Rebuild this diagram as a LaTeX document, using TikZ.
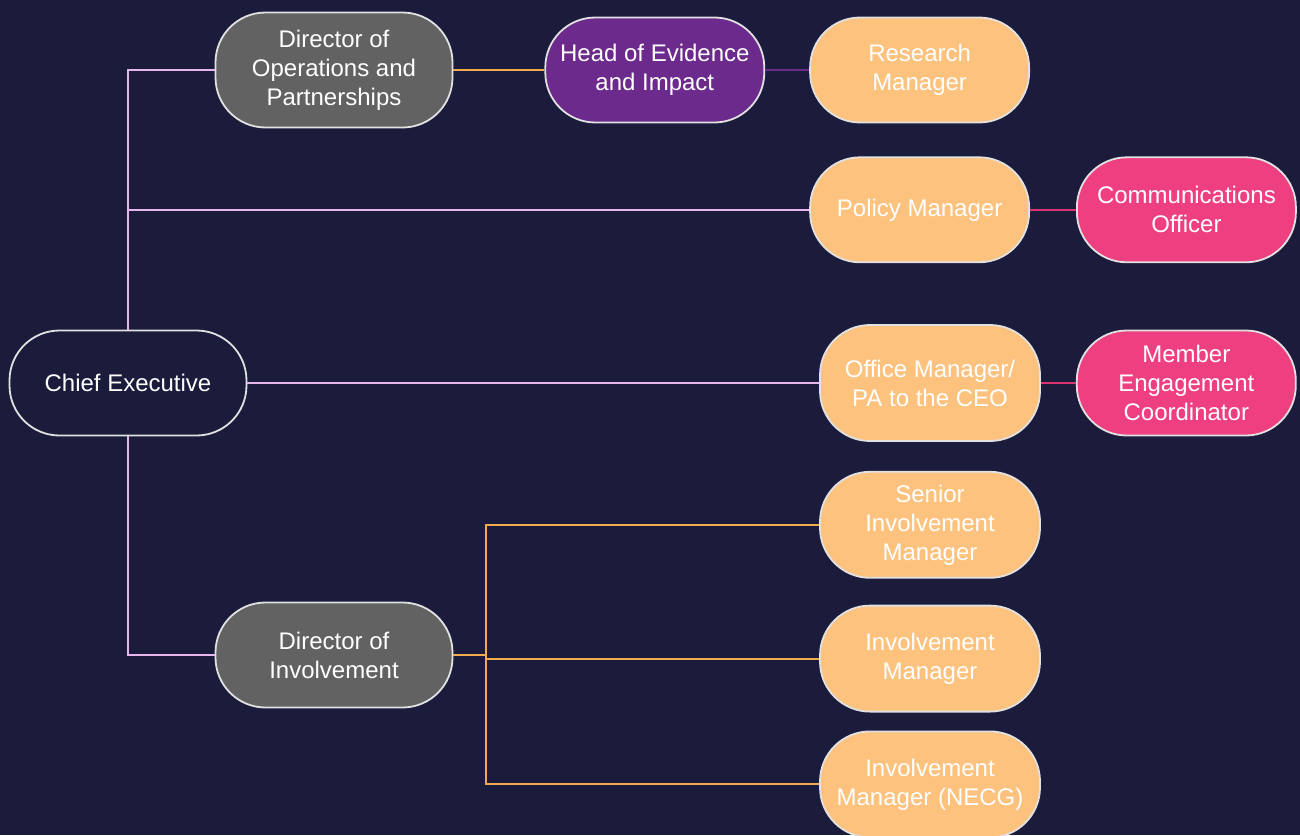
\documentclass[tikz,border=0pt]{standalone}
\usepackage{fontspec}
\setmainfont{Liberation Sans}
\usetikzlibrary{positioning, backgrounds}

\definecolor{navybg}{RGB}{27,27,60}
\definecolor{dirgray}{RGB}{98,98,98}
\definecolor{evpurple}{RGB}{108,42,140}
\definecolor{peach}{RGB}{253,194,126}
\definecolor{hotpink}{RGB}{238,64,128}
\definecolor{rimwhite}{RGB}{225,225,225}
\definecolor{linklilac}{RGB}{232,182,236}
\definecolor{linkorange}{RGB}{240,170,80}
\definecolor{linkpurple}{RGB}{108,42,140}
\definecolor{linkpink}{RGB}{220,50,115}

\begin{document}
\begin{tikzpicture}[
    x=0.5pt, y=-0.5pt,
    pillbox/.style={rectangle, draw=rimwhite, line width=0.9pt, rounded corners=25pt, align=center,
        text=white, inner xsep=4pt, inner ysep=4pt, font=\fontsize{12}{14.5}\selectfont},
    dirbox/.style={pillbox, fill=dirgray, minimum width=118.5pt, minimum height=52.5pt},
    rolebox/.style={pillbox, minimum width=109.5pt, minimum height=52.5pt},
    widebox/.style={pillbox, fill=peach, minimum width=110pt, minimum height=53pt},
    link/.style={line width=1pt}
]

% ============ Background ============
\begin{scope}[on background layer]
    \fill[navybg] (0,0) rectangle (1300,835);
\end{scope}
\useasboundingbox (0,0) rectangle (1300,835);

% ============ LEFT COLUMN ============
\node[dirbox, fill=navybg] (chief) at (128,383) {Chief Executive};
\node[dirbox, minimum height=57.5pt] (dirops) at (334,70) {Director of\\Operations and\\Partnerships};
\node[dirbox] (dirinv) at (334,655) {Director of\\Involvement};

% ============ TOP ROW ============
\node[rolebox, fill=evpurple, right=45.5pt of dirops] (headev) {Head of Evidence\\and Impact};
\node[rolebox, fill=peach, right=22pt of headev] (research) {Research\\Manager};

% ============ POLICY ROW ============
\node[rolebox, fill=peach, below=16.5pt of research] (policy) {Policy Manager};
\node[rolebox, fill=hotpink, right=23pt of policy] (comms) {Communications\\Officer};

% ============ OFFICE ROW ============
\node[widebox, minimum height=58pt] (office) at (930,383) {Office Manager/\\PA to the CEO};
\node[rolebox, fill=hotpink, right=17.5pt of office] (member) {Member\\Engagement\\Coordinator};

% ============ INVOLVEMENT TEAM ============
\node[widebox, below=14.5pt of office] (senior) {Senior\\Involvement\\Manager};
\node[widebox, below=13pt of senior] (invmgr) {Involvement\\Manager};
\node[widebox, below=9pt of invmgr] (necg) {Involvement\\Manager (NECG)};

% ============ CONNECTIONS ============
\draw[link, draw=linklilac] (chief.north) |- (dirops.west);
\draw[link, draw=linklilac] (chief.north |- policy) -- (policy.west);
\draw[link, draw=linklilac] (chief.east) -- (office.west);
\draw[link, draw=linklilac] (chief.south) |- (dirinv.west);

\draw[link, draw=linkorange] (dirops.east) -- (headev.west);
\draw[link, draw=linkpurple] (headev.east) -- (research.west);
\draw[link, draw=linkpink] (policy.east) -- (comms.west);
\draw[link, draw=linkpink] (office.east) -- (member.west);

\draw[link, draw=linkorange] (dirinv.east) -- ++(33,0) coordinate (invsplit);
\draw[link, draw=linkorange] (invsplit) |- (senior.west);
\draw[link, draw=linkorange] (invsplit) |- (invmgr.west);
\draw[link, draw=linkorange] (invsplit) |- (necg.west);

\end{tikzpicture}
\end{document}
